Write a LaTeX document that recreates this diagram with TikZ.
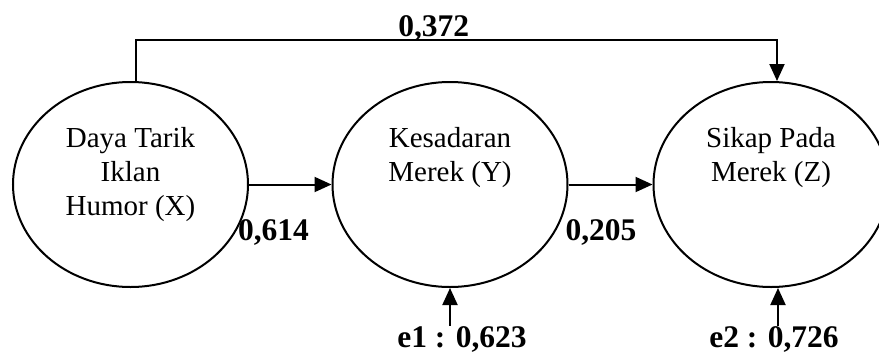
\documentclass[tikz,border=0pt]{standalone}
\usepackage{fontspec}
\setmainfont{Liberation Serif}
\usepackage{tikz}
\usetikzlibrary{positioning,arrows.meta,shapes.geometric}

\begin{document}
\begin{tikzpicture}[x=1pt, y=-1pt, line width=2pt,
  var/.style={draw, ellipse, minimum width=235pt, minimum height=205pt, inner sep=0pt},
  vtext/.style={align=center, inner sep=0pt, font=\fontsize{29}{34}\selectfont},
  coef/.style={inner sep=0pt, anchor=base, font=\fontsize{31.5}{36}\selectfont\bfseries},
  arr/.style={-{Triangle[length=17pt, width=15pt]}}]

\useasboundingbox (0,0) rectangle (879,354);

\node[var] (X) at (130.5,184.5) {};
\node[var] (Y) at (450,184.5) {};
\node[var] (Z) at (771,184.5) {};

\node[vtext, below=45pt of X.north] (Xt) {Daya Tarik\\Iklan\\Humor (X)};
\node[vtext, below=45pt of Y.north] (Yt) {Kesadaran\\Merek (Y)};
\node[vtext, below=45pt of Z.north] (Zt) {Sikap Pada\\Merek (Z)};

\node[coef] (p1) at (273.5,240.5) {0,614};
\node[coef] (p2) at (601,240) {0,205};
\node[coef] (p3) at (433.7,36.7) {0,372};
\node[coef] (e1) at (462,347.5) {e1 : 0,623};
\node[coef] (e2) at (774,347.5) {e2 : 0,726};

\coordinate (x1) at ([xshift=5pt]X.north);
\coordinate (z1) at ([xshift=6pt]Z.north);
\coordinate (z2) at ([xshift=7pt]Z.south);

\draw[arr] (X) -- (Y);
\draw[arr] (Y) -- (Z);
\draw[arr] (x1) -- ++(0,-41) -| (z1);
\draw[arr] (Y.south |- e1.north) -- (Y.south);
\draw[arr] (z2 |- e2.north) -- (z2);
\end{tikzpicture}
\end{document}
